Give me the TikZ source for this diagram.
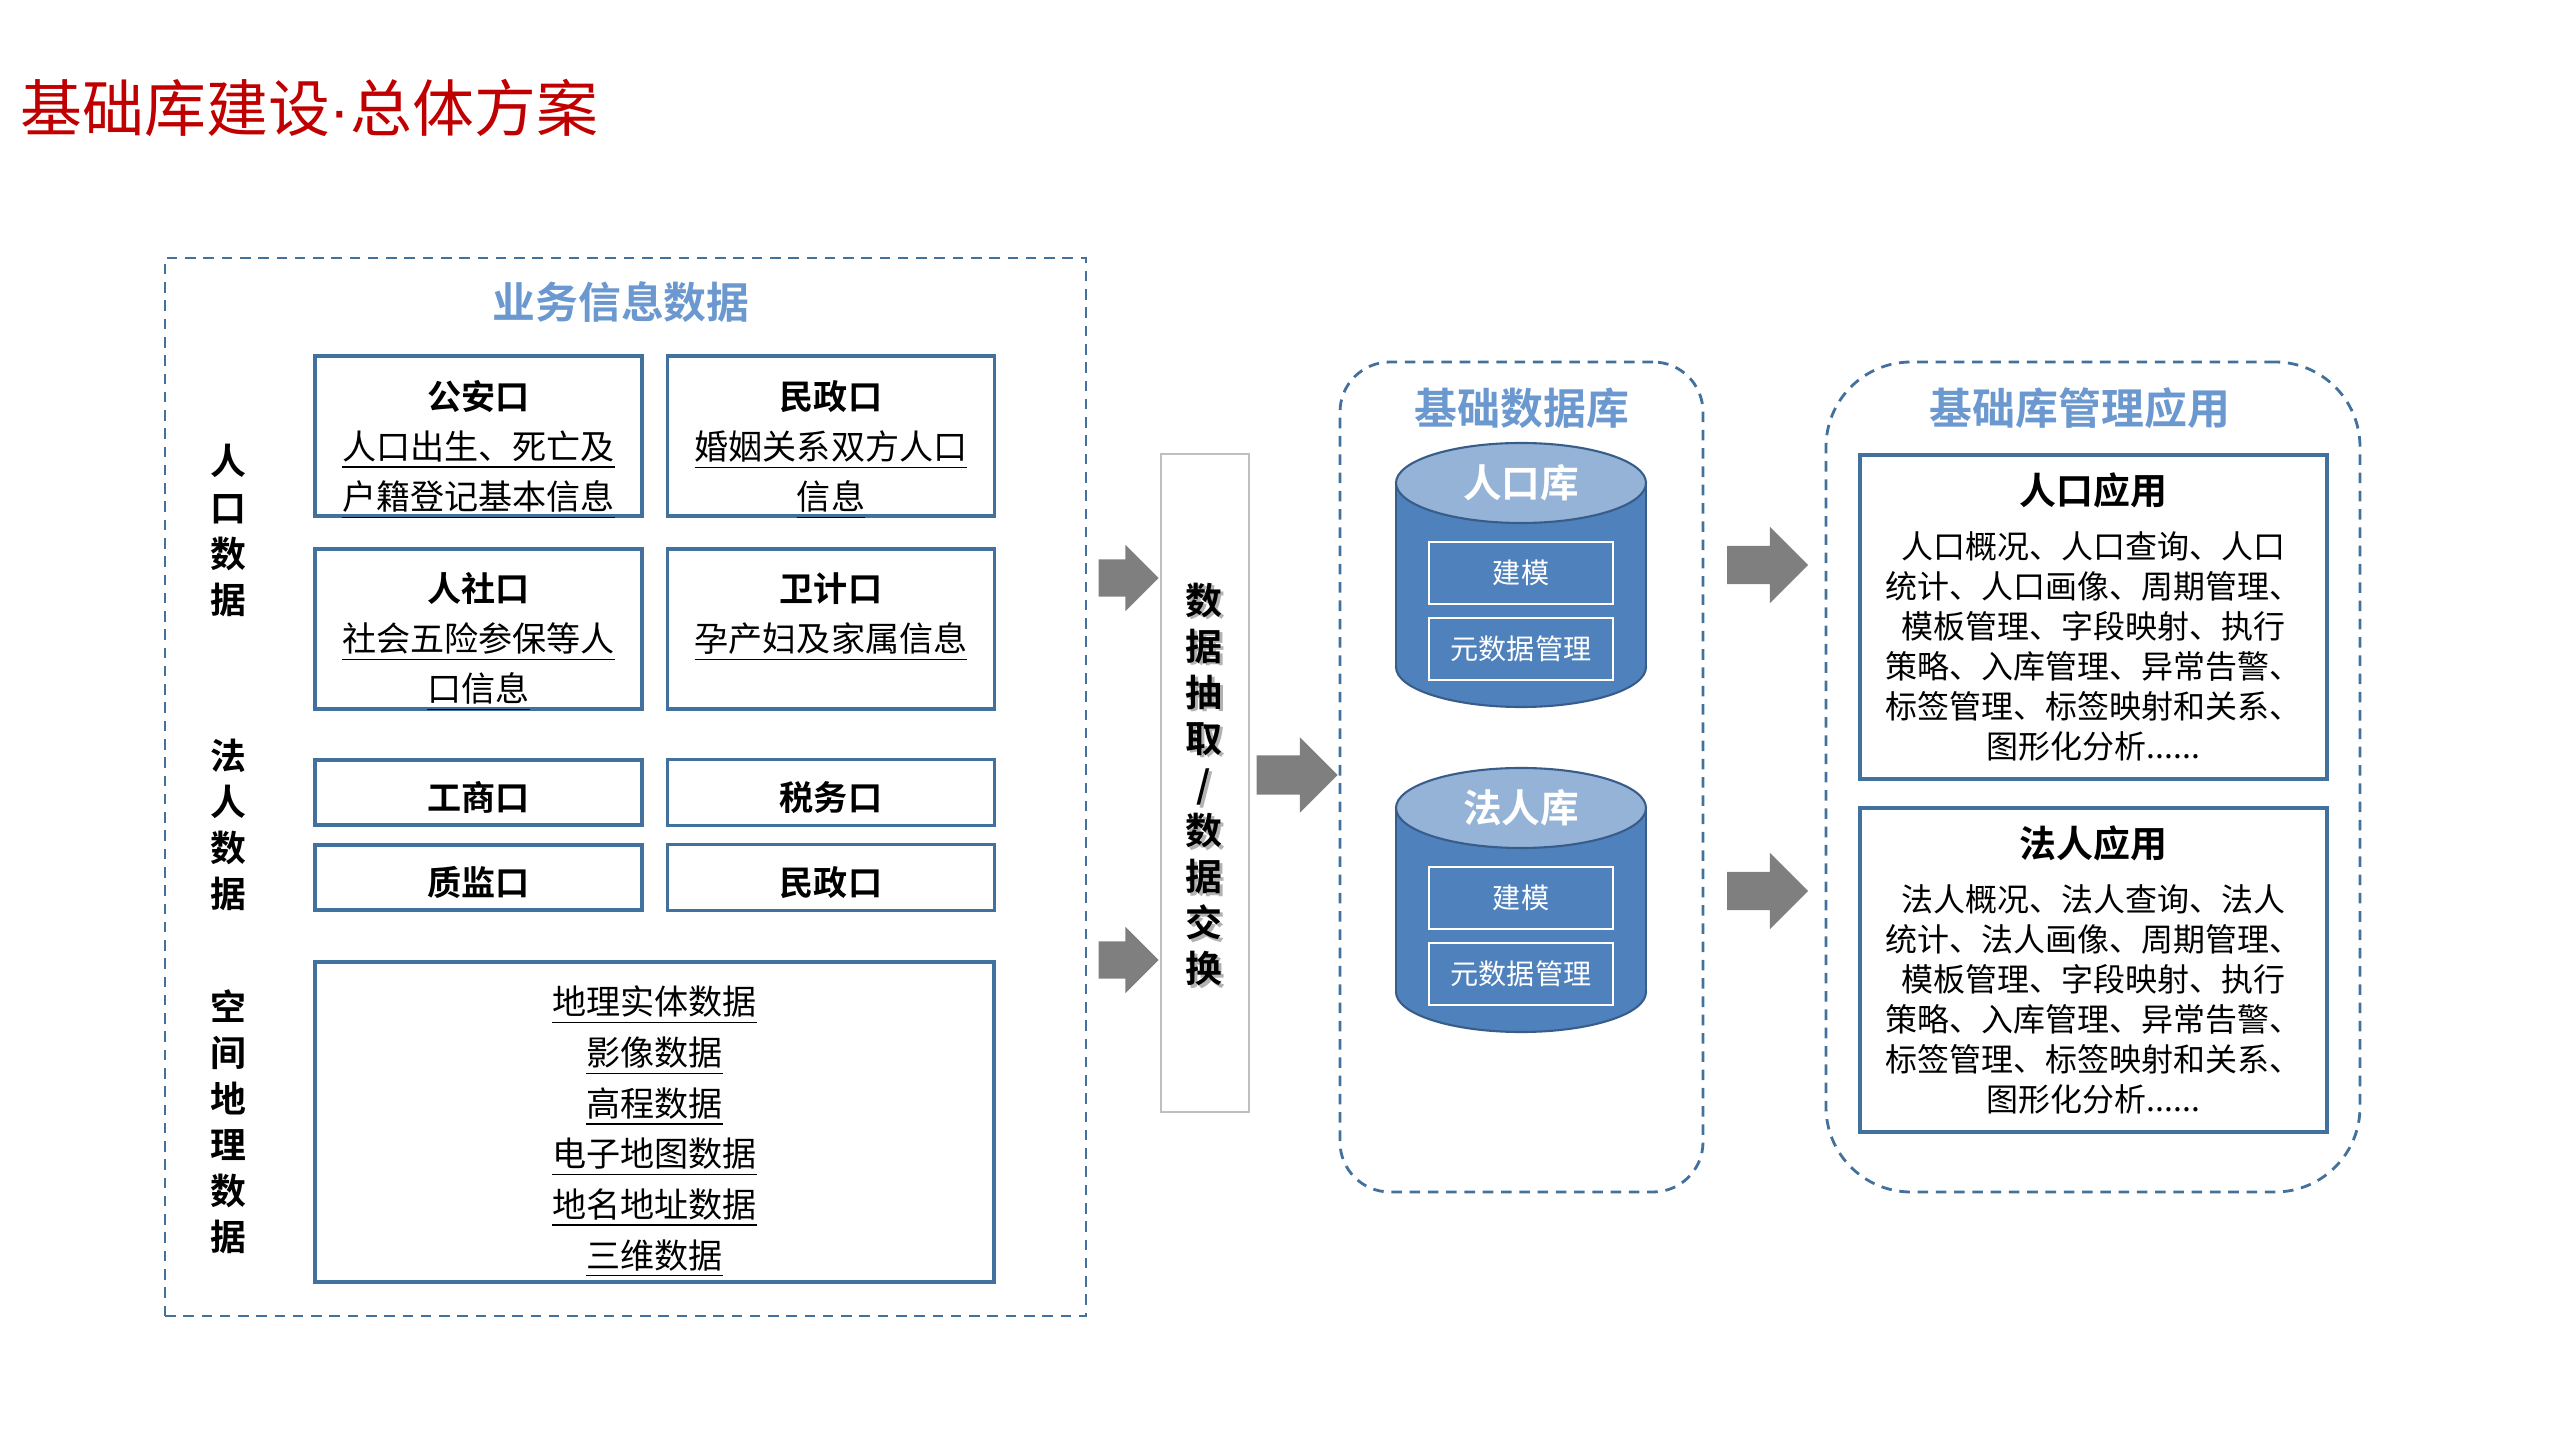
\documentclass[tikz,border=0pt]{standalone}
\usepackage{fontspec}
\setmainfont{Noto Sans CJK SC}[BoldFont={Noto Sans CJK SC Bold}]
\newfontfamily\latindot{Liberation Sans}
\usetikzlibrary{shapes.arrows}
\definecolor{boxblue}{RGB}{65,113,156}
\definecolor{headblue}{RGB}{108,152,208}
\definecolor{dbfill}{RGB}{79,129,189}
\definecolor{dbface}{RGB}{149,179,215}
\definecolor{dbedge}{RGB}{56,93,138}
\definecolor{titlered}{RGB}{192,0,0}
\definecolor{arrowgray}{RGB}{127,127,127}
% database cylinder: #1 name, #2 y of top face centre, #3 label
\newcommand{\dbcyl}[3]{%
  \fill[dbfill] (1396,#2) rectangle (1646,#2+184);
  \fill[dbfill] (1521,#2+184) ellipse (125 and 40);
  \draw[dbedge, line width=0.6pt] (1396,#2) -- (1396,#2+184) (1646,#2) -- (1646,#2+184);
  \begin{scope}
    \clip (1390,#2+184) rectangle (1652,#2+230);
    \draw[dbedge, line width=0.6pt] (1521,#2+184) ellipse (125 and 40);
  \end{scope}
  \filldraw[fill=dbface, draw=dbedge, line width=0.6pt] (1521,#2) ellipse (125 and 40);
  \node[dbtitle] (#1) at (1521,#2) {#3};
  \node[dbitem] (#1-m) at (1521,#2+90) {建模};
  \node[dbitem] (#1-md) at (1521,#2+166) {元数据管理};
}

\begin{document}
\begin{tikzpicture}[x=0.1mm, y=-0.1mm,
  zone/.style={draw=boxblue, line width=0.8pt, dash pattern=on 3pt off 2.2pt},
  ztitle/.style={text=headblue, font=\fontsize{12.2}{14}\selectfont\bfseries},
  srcbox/.style={draw=boxblue, line width=0.9pt, minimum width=32.7mm, minimum height=16mm},
  shortbox/.style={srcbox, minimum height=6.3mm, text height=1.1em, font=\fontsize{9.7}{12}\selectfont\bfseries},
  srctext/.style={align=center, font=\fontsize{9.7}{14.2}\selectfont},
  sidelabel/.style={align=center, font=\fontsize{10.2}{13.1}\selectfont\bfseries},
  dbtitle/.style={text=white, font=\fontsize{11}{13}\selectfont\bfseries},
  dbitem/.style={draw=white, line width=0.75pt, text=white, minimum width=18.4mm, minimum height=6.2mm,
    font=\fontsize{8}{10}\selectfont},
  appbox/.style={draw=boxblue, line width=0.9pt, minimum width=46.7mm, minimum height=32.4mm,
    align=center, font=\fontsize{9.1}{11.4}\selectfont},
  blockarrow/.style={single arrow, fill=arrowgray, anchor=tip, inner xsep=0pt, minimum width=0pt}]
  \useasboundingbox (0,0) rectangle (2560,1440);

  \node[anchor=west, inner sep=0pt, text=titlered, font=\fontsize{17.6}{21}\selectfont] (title) at (20,108) {基础库建设{\latindot ·}总体方案};

  % business data
  \node[zone, minimum width=92.1mm, minimum height=105.8mm] (biz) at (625.5,787) {};
  \node[ztitle] (biz-t) at (621,302) {业务信息数据};
  \node[sidelabel] (rk-l) at (228,530.5) {人\\口\\数\\据};
  \node[sidelabel] (fr-l) at (228,824.5) {法\\人\\数\\据};
  \node[sidelabel] (geo-l) at (228,1121.5) {空\\间\\地\\理\\数\\据};

  \node[srcbox] (ga) at (478.5,436) {};
  \node[srcbox] (mz) at (831,436) {};
  \node[srcbox] (rs) at (478.5,629) {};
  \node[srcbox] (wj) at (831,629) {};
  \node[srctext] (ga-t) at (478.5,450) {\textbf{公安口}\\\underline{人口出生、死亡及}\\\underline{户籍登记基本信息}};
  \node[srctext] (mz-t) at (831,450) {\textbf{民政口}\\\underline{婚姻关系双方人口}\\\underline{信息}};
  \node[srctext] (rs-t) at (478.5,642) {\textbf{人社口}\\\underline{社会五险参保等人}\\\underline{口信息}};
  \node[srctext] (wj-t) at (831,617) {\textbf{卫计口}\\\underline{孕产妇及家属信息}};

  \node[shortbox] (gs) at (478.5,792.5) {工商口};
  \node[shortbox] (sw) at (831,792.5) {税务口};
  \node[shortbox] (zj) at (478.5,877.5) {质监口};
  \node[shortbox] (mz2) at (831,877.5) {民政口};

  \node[srcbox, minimum width=67.9mm, minimum height=32mm] (geo) at (654.5,1122) {};
  \node[srctext, font=\fontsize{9.7}{14.4}\selectfont] (geo-t) at (654.5,1132) {\underline{地理实体数据}\\\underline{影像数据}\\\underline{高程数据}\\\underline{电子地图数据}\\\underline{地名地址数据}\\\underline{三维数据}};

  % extraction / exchange
  \node[draw=black!25, line width=0.8pt, minimum width=8.8mm, minimum height=65.8mm] (ext) at (1205,783) {};
  \node[sidelabel, text=black!30, font=\fontsize{10.5}{13.1}\selectfont\bfseries] (ext-s) at (1207,787) {数\\据\\抽\\取\\/\\数\\据\\交\\换};
  \node[sidelabel, font=\fontsize{10.5}{13.1}\selectfont\bfseries] (ext-t) at (1204,784.5) {数\\据\\抽\\取\\/\\数\\据\\交\\换};

  \node[blockarrow, inner ysep=1.8mm, single arrow head extend=1.45mm, minimum height=6mm] (a1) at (ext.west |- 0,578) {};
  \node[blockarrow, inner ysep=1.8mm, single arrow head extend=1.45mm, minimum height=6mm] (a2) at (ext.west |- 0,960) {};

  % base databases
  \node[zone, rounded corners=5mm, minimum width=36.3mm, minimum height=83mm] (dbz) at (1521.5,777) {};
  \node[ztitle] (dbz-t) at (1522,408) {基础数据库};
  \dbcyl{rkk}{483}{人口库}
  \dbcyl{frk}{808}{法人库}
  \node[blockarrow, inner ysep=1.9mm, single arrow head extend=1.8mm, minimum height=8.1mm] (a3) at (dbz.west |- 0,775) {};

  % applications
  \node[zone, rounded corners=8.5mm, minimum width=53.4mm, minimum height=83mm] (appz) at (2093,777) {};
  \node[ztitle] (appz-t) at (2080,408) {基础库管理应用};
  \node[appbox] (rkapp) at (2093.5,617) {{\bfseries\fontsize{10.5}{13}\selectfont 人口应用}\\[4pt]
    人口概况、人口查询、人口\\统计、人口画像、周期管理、\\模板管理、字段映射、执行\\策略、入库管理、异常告警、\\标签管理、标签映射和关系、\\图形化分析......};
  \node[appbox] (frapp) at (2093.5,970) {{\bfseries\fontsize{10.5}{13}\selectfont 法人应用}\\[4pt]
    法人概况、法人查询、法人\\统计、法人画像、周期管理、\\模板管理、字段映射、执行\\策略、入库管理、异常告警、\\标签管理、标签映射和关系、\\图形化分析......};
  \node[blockarrow, inner ysep=1.85mm, single arrow head extend=1.9mm, minimum height=8.1mm] (a4) at (1809,565) {};
  \node[blockarrow, inner ysep=1.85mm, single arrow head extend=1.9mm, minimum height=8.1mm] (a5) at (1809,891) {};
\end{tikzpicture}
\end{document}
